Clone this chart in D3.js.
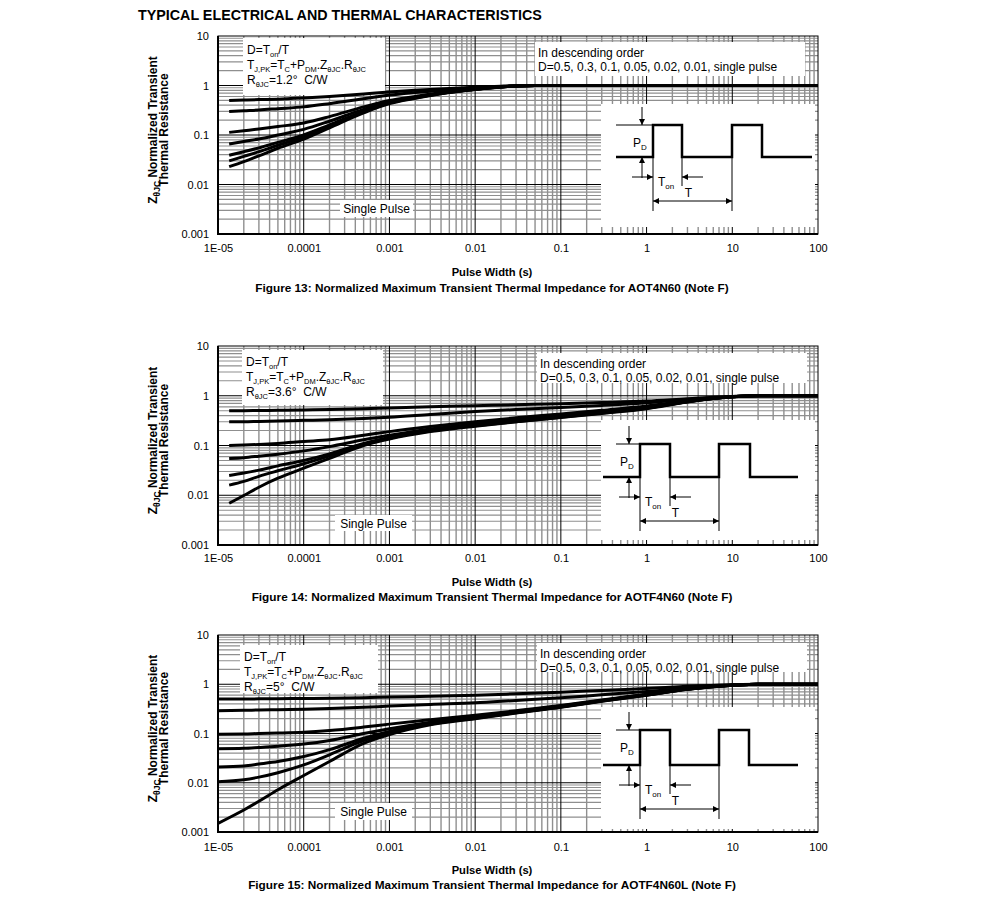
<!DOCTYPE html>
<html><head><meta charset="utf-8">
<script src="https://cdn.jsdelivr.net/npm/d3@7"></script>
<style>body{margin:0;background:#fff} svg{display:block} text{font-family:"Liberation Sans",Arial,sans-serif;fill:#000}</style>
</head><body><svg id="c" width="991" height="923"></svg>
<script>
// ---------- data ----------
const pageTitle = "TYPICAL ELECTRICAL AND THERMAL CHARACTERISTICS";
const xTickValues = [1e-5, 1e-4, 1e-3, 1e-2, 1e-1, 1, 10, 100];
const xTickLabels = ["1E-05", "0.0001", "0.001", "0.01", "0.1", "1", "10", "100"];
const yTickValues = [0.001, 0.01, 0.1, 1, 10];
const yTickLabels = ["0.001", "0.01", "0.1", "1", "10"];
const seriesNames = ["D=0.5", "D=0.3", "D=0.1", "D=0.05", "D=0.02", "D=0.01", "single pulse"];
const xAxisTitle = "Pulse Width (s)";
const figCaptions = [
  "Figure 13: Normalized Maximum Transient Thermal Impedance for AOT4N60 (Note F)",
  "Figure 14: Normalized Maximum Transient Thermal Impedance for AOTF4N60 (Note F)",
  "Figure 15: Normalized Maximum Transient Thermal Impedance for AOTF4N60L (Note F)"
];
const rthValues = ["1.2", "3.6", "5"];

const fig13Time = [1.35e-5, 2e-5, 3e-5, 5e-5, 1e-4, 2e-4, 5e-4, 1e-3, 2e-3, 5e-3, 1e-2, 2e-2, 3e-2, 5e-2, 0.1, 1, 10, 100];
const fig13Z = [
  [0.50, 0.51, 0.52, 0.53, 0.56, 0.60, 0.67, 0.74, 0.80, 0.87, 0.92, 0.97, 0.99, 1, 1, 1, 1, 1],
  [0.30, 0.31, 0.32, 0.34, 0.37, 0.43, 0.54, 0.64, 0.72, 0.82, 0.89, 0.96, 0.99, 1, 1, 1, 1, 1],
  [0.113, 0.122, 0.132, 0.148, 0.175, 0.235, 0.37, 0.50, 0.60, 0.76, 0.85, 0.94, 0.98, 1, 1, 1, 1, 1],
  [0.066, 0.074, 0.083, 0.100, 0.13, 0.19, 0.33, 0.47, 0.58, 0.74, 0.84, 0.94, 0.98, 1, 1, 1, 1, 1],
  [0.039, 0.046, 0.055, 0.071, 0.10, 0.16, 0.30, 0.45, 0.57, 0.73, 0.84, 0.93, 0.98, 1, 1, 1, 1, 1],
  [0.030, 0.037, 0.046, 0.062, 0.092, 0.15, 0.29, 0.44, 0.56, 0.73, 0.83, 0.93, 0.98, 1, 1, 1, 1, 1],
  [0.023, 0.029, 0.038, 0.054, 0.083, 0.14, 0.28, 0.43, 0.55, 0.72, 0.83, 0.93, 0.98, 1, 1, 1, 1, 1]
];

const fig14Time = [1.35e-5, 2e-5, 3e-5, 5e-5, 1e-4, 2e-4, 5e-4, 1e-3, 3e-3, 1e-2, 3e-2, 0.1, 0.3, 1, 3, 10, 20, 100];
const fig14Z = [
  [0.50, 0.50, 0.505, 0.51, 0.52, 0.53, 0.55, 0.57, 0.60, 0.63, 0.66, 0.69, 0.73, 0.78, 0.87, 0.97, 1, 1],
  [0.30, 0.30, 0.305, 0.31, 0.32, 0.33, 0.35, 0.37, 0.42, 0.48, 0.53, 0.58, 0.64, 0.72, 0.84, 0.96, 1, 1],
  [0.100, 0.102, 0.105, 0.11, 0.12, 0.13, 0.16, 0.19, 0.24, 0.30, 0.36, 0.43, 0.51, 0.62, 0.79, 0.95, 1, 1],
  [0.055, 0.057, 0.061, 0.067, 0.078, 0.095, 0.13, 0.16, 0.215, 0.27, 0.33, 0.40, 0.48, 0.59, 0.77, 0.95, 1, 1],
  [0.025, 0.028, 0.032, 0.039, 0.050, 0.068, 0.11, 0.145, 0.20, 0.255, 0.31, 0.38, 0.46, 0.57, 0.76, 0.95, 1, 1],
  [0.016, 0.019, 0.024, 0.031, 0.043, 0.062, 0.105, 0.14, 0.195, 0.25, 0.30, 0.37, 0.45, 0.56, 0.76, 0.95, 1, 1],
  [0.0069, 0.0099, 0.0145, 0.022, 0.035, 0.055, 0.10, 0.135, 0.19, 0.245, 0.30, 0.365, 0.44, 0.55, 0.75, 0.95, 1, 1]
];

const fig15Time = [1e-5, 2e-5, 3e-5, 5e-5, 1e-4, 2e-4, 5e-4, 1e-3, 3e-3, 1e-2, 3e-2, 0.1, 0.3, 1, 3, 10, 20, 100];
const fig15Z = [
  [0.50, 0.50, 0.505, 0.51, 0.515, 0.52, 0.535, 0.55, 0.57, 0.60, 0.64, 0.69, 0.75, 0.82, 0.91, 0.98, 1, 1],
  [0.29, 0.295, 0.30, 0.305, 0.31, 0.32, 0.34, 0.36, 0.39, 0.42, 0.47, 0.53, 0.61, 0.71, 0.84, 0.96, 1, 1],
  [0.097, 0.098, 0.10, 0.102, 0.106, 0.115, 0.135, 0.155, 0.19, 0.235, 0.29, 0.37, 0.48, 0.63, 0.80, 0.95, 1, 1],
  [0.049, 0.050, 0.052, 0.055, 0.061, 0.072, 0.10, 0.125, 0.17, 0.22, 0.28, 0.36, 0.47, 0.62, 0.80, 0.95, 1, 1],
  [0.021, 0.022, 0.024, 0.027, 0.034, 0.047, 0.08, 0.11, 0.16, 0.21, 0.27, 0.35, 0.46, 0.61, 0.79, 0.95, 1, 1],
  [0.0105, 0.0115, 0.013, 0.016, 0.023, 0.037, 0.072, 0.10, 0.155, 0.205, 0.265, 0.345, 0.455, 0.60, 0.79, 0.95, 1, 1],
  [0.0015, 0.0028, 0.0042, 0.0072, 0.014, 0.027, 0.063, 0.095, 0.15, 0.20, 0.26, 0.34, 0.45, 0.60, 0.79, 0.95, 1, 1]
];

// ---------- layout ----------
const FONT = '"Liberation Sans",Arial,sans-serif';
const plotLeft = 218, plotRight = 818;
const layouts = [
  {top: 36, bottom: 234, leg1: [243, 38, 385, 95], leg2: [535, 42, 805, 76], sp: [340, 200, 413, 217],
   inset: [601, 104, 815, 227], wave: {hi: 125, lo: 157, x0: 616, r1: 653, f1: 682, r2: 732, f2: 762, x1: 812, ax: 642, rs: 616},
   xlab: 248, pw: 272, cap: 288},
  {top: 346, bottom: 545, leg1: [242, 350, 383, 405], leg2: [537, 353, 807, 383], sp: [335, 515, 412, 531],
   inset: [601, 420, 815, 540], wave: {hi: 444, lo: 477, x0: 603, r1: 640, f1: 670, r2: 719, f2: 750, x1: 798, ax: 629, rs: 616},
   xlab: 558, pw: 582, cap: 597},
  {top: 635, bottom: 832, leg1: [240, 645, 378, 693], leg2: [537, 643, 807, 672], sp: [335, 803, 412, 820],
   inset: [601, 707, 815, 829], wave: {hi: 730, lo: 765, x0: 603, r1: 640, f1: 670, r2: 719, f2: 749, x1: 798, ax: 629, rs: 616},
   xlab: 847, pw: 870, cap: 885}
];
const chartData = [[fig13Time, fig13Z], [fig14Time, fig14Z], [fig15Time, fig15Z]];

const svg = d3.select("#c");
const defs = svg.append("defs");
defs.append("marker").attr("id", "ah").attr("viewBox", "0 0 10 10").attr("refX", 10).attr("refY", 5)
  .attr("markerWidth", 7).attr("markerHeight", 6).attr("markerUnits", "userSpaceOnUse").attr("orient", "auto-start-reverse")
  .append("path").attr("d", "M0,0L10,5L0,10Z").attr("fill", "#000");

svg.append("text").attr("x", 138).attr("y", 20).attr("font-size", 14.3).attr("font-weight", "bold").text(pageTitle);

// multi-line text with subscripts, all in one text element
function richText(sel, lines, x, lineH, base, sub, shift) {
  let cur = 0;
  lines.forEach((parts, li) => {
    parts.forEach(([t, s], pi) => {
      const ts = sel.append("tspan").text(t).attr("font-size", s ? sub : base);
      const target = s ? shift : 0;
      let dy = target - cur;
      if (pi === 0) { ts.attr("x", x); if (li > 0) dy += lineH; }
      if (dy) ts.attr("dy", dy);
      cur = target;
    });
  });
}

layouts.forEach((L, ci) => {
  const [times, zs] = chartData[ci];
  const x = d3.scaleLog().domain([1e-5, 100]).range([plotLeft, plotRight]);
  const y = d3.scaleLog().domain([0.001, 10]).range([L.bottom, L.top]);
  const g = svg.append("g");
  const clipId = "clip" + ci;
  defs.append("clipPath").attr("id", clipId).append("rect")
    .attr("x", plotLeft).attr("y", L.top).attr("width", plotRight - plotLeft).attr("height", L.bottom - L.top);

  // grid
  const grid = g.append("g");
  const xs = [], ys = [];
  for (let d = -5; d <= 1; d++) for (let m = 1; m <= 9; m++) xs.push({v: m * Math.pow(10, d), major: m === 1});
  for (let d = -3; d <= 0; d++) for (let m = 1; m <= 9; m++) ys.push({v: m * Math.pow(10, d), major: m === 1});
  grid.selectAll(".gx").data(xs.filter(d => !d.major)).join("line")
    .attr("x1", d => x(d.v)).attr("x2", d => x(d.v)).attr("y1", L.top).attr("y2", L.bottom)
    .attr("stroke", "#8f8f8f").attr("stroke-width", 1.4);
  grid.selectAll(".gy").data(ys.filter(d => !d.major)).join("line")
    .attr("y1", d => y(d.v)).attr("y2", d => y(d.v)).attr("x1", plotLeft).attr("x2", plotRight)
    .attr("stroke", "#8f8f8f").attr("stroke-width", 1.2);
  grid.selectAll(".mx").data(xs.filter(d => d.major)).join("line")
    .attr("x1", d => x(d.v)).attr("x2", d => x(d.v)).attr("y1", L.top).attr("y2", L.bottom)
    .attr("stroke", "#000").attr("stroke-width", 1);
  grid.selectAll(".my").data(ys.filter(d => d.major)).join("line")
    .attr("y1", d => y(d.v)).attr("y2", d => y(d.v)).attr("x1", plotLeft).attr("x2", plotRight)
    .attr("stroke", "#000").attr("stroke-width", 1);

  // white boxes
  const box = (b) => g.append("rect").attr("x", b[0]).attr("y", b[1]).attr("width", b[2] - b[0]).attr("height", b[3] - b[1]).attr("fill", "#fff");
  box(L.leg1); box(L.leg2); box(L.sp); box(L.inset);

  // frame
  g.append("rect").attr("x", plotLeft).attr("y", L.top).attr("width", plotRight - plotLeft).attr("height", L.bottom - L.top)
    .attr("fill", "none").attr("stroke", "#000").attr("stroke-width", 1);
  g.append("path").attr("d", `M${plotLeft},${L.top}V${L.bottom}H${plotRight}`).attr("fill", "none").attr("stroke", "#000").attr("stroke-width", 2);

  // curves
  const line = d3.line().x(d => x(d[0])).y(d => y(d[1])).curve(d3.curveMonotoneX);
  g.append("g").attr("clip-path", `url(#${clipId})`).selectAll("path").data(zs).join("path")
    .attr("d", s => line(times.map((t, i) => [t, s[i]])))
    .attr("fill", "none").attr("stroke", "#000").attr("stroke-width", 3).attr("stroke-linejoin", "round")
    .attr("data-name", (s, i) => seriesNames[i]);

  // axes
  const ya = g.append("g").attr("transform", `translate(${plotLeft},0)`)
    .call(d3.axisLeft(y).tickValues(yTickValues).tickFormat((d, i) => yTickLabels[i]).tickSize(0).tickPadding(9));
  ya.select(".domain").remove();
  ya.selectAll("text").attr("font-size", 11).attr("font-family", FONT).attr("fill", "#000");
  const xa = g.append("g").attr("transform", `translate(0,${L.bottom})`)
    .call(d3.axisBottom(x).tickValues(xTickValues).tickFormat((d, i) => xTickLabels[i]).tickSize(0).tickPadding(L.xlab - L.bottom - 4));
  xa.select(".domain").remove();
  xa.selectAll("text").attr("font-size", 11).attr("font-family", FONT).attr("fill", "#000");

  // axis titles
  g.append("text").attr("x", 492).attr("y", L.pw + 4).attr("text-anchor", "middle").attr("font-size", 11.2).attr("font-weight", "bold").text(xAxisTitle);
  g.append("text").attr("x", 492).attr("y", L.cap + 4).attr("text-anchor", "middle").attr("font-size", 11.8).attr("font-weight", "bold").text(figCaptions[ci]);
  const cy = (L.top + L.bottom) / 2 - 5;
  const t1 = g.append("text").attr("transform", `translate(157,${cy}) rotate(-90)`).attr("text-anchor", "middle").attr("font-weight", "bold");
  richText(t1, [[["Z", false], ["\u03b8JC", true], [" Normalized Transient", false]], [["Thermal Resistance", false]]], 0, 10.5, 12, 8.5, 2.5);

  // legend 1
  const lx = L.leg1[0] + 4, ly = L.leg1[1];
  const a1 = g.append("text").attr("x", lx).attr("y", ly + 16).attr("xml:space", "preserve");
  richText(a1, [
    [["D=T", false], ["on", true], ["/T", false]],
    [["T", false], ["J,PK", true], ["=T", false], ["C", true], ["+P", false], ["DM", true], [".Z", false], ["\u03b8JC", true], [".R", false], ["\u03b8JC", true]],
    [["R", false], ["\u03b8JC", true], ["=" + rthValues[ci] + "\u00b0\u00a0\u00a0C/W", false]]
  ], lx, 15, 12, 7.5, 2.5);

  // legend 2
  const b2 = g.append("text").attr("x", L.leg2[0] + 3).attr("y", L.leg2[1] + 15).attr("font-size", 12);
  richText(b2, [
    [["In descending order", false]],
    [["D=" + seriesNames.slice(0, 6).map(s => s.replace("D=", "")).join(", ") + ", " + seriesNames[6], false]]
  ], L.leg2[0] + 3, 13.5, 12, 8, 0);

  // single pulse label
  g.append("text").attr("x", (L.sp[0] + L.sp[2]) / 2).attr("y", (L.sp[1] + L.sp[3]) / 2 + 4.5).attr("text-anchor", "middle").attr("font-size", 12).text("Single Pulse");

  // inset waveform
  const w = L.wave;
  g.append("path").attr("d", `M${w.x0},${w.lo}H${w.r1}V${w.hi}H${w.f1}V${w.lo}H${w.r2}V${w.hi}H${w.f2}V${w.lo}H${w.x1}`)
    .attr("fill", "none").attr("stroke", "#000").attr("stroke-width", 2.5);
  const thin = (x1, y1, x2, y2, arrow) => {
    const l = g.append("line").attr("x1", x1).attr("y1", y1).attr("x2", x2).attr("y2", y2).attr("stroke", "#000").attr("stroke-width", 1);
    if (arrow === "end" || arrow === "both") l.attr("marker-end", "url(#ah)");
    if (arrow === "both") l.attr("marker-start", "url(#ah)");
  };
  thin(w.rs, w.hi, w.r1, w.hi);
  thin(w.ax, w.hi - 18, w.ax, w.hi, "end");
  thin(w.ax, w.lo + 21, w.ax, w.lo, "end");
  thin(w.r1, w.lo, w.r1, w.lo + 54);
  thin(w.r2, w.lo, w.r2, w.lo + 54);
  thin(w.f1, w.lo, w.f1, w.lo + 29);
  thin(w.r1 - 21, w.lo + 20, w.r1, w.lo + 20, "end");
  thin(w.f1 + 21, w.lo + 20, w.f1, w.lo + 20, "end");
  thin(w.r1, w.lo + 44, w.r2, w.lo + 44, "both");
  const pd = g.append("text").attr("x", w.ax - 9).attr("y", w.hi + 22);
  richText(pd, [[["P", false], ["D", true]]], w.ax - 9, 0, 12, 8, 2.5);
  const ton = g.append("text").attr("x", w.r1 + 5).attr("y", w.lo + 29);
  richText(ton, [[["T", false], ["on", true]]], w.r1 + 5, 0, 12, 8, 2.5);
  g.append("text").attr("x", (w.r1 + w.r2) / 2 - 4).attr("y", w.lo + 40).attr("text-anchor", "middle").attr("font-size", 12).text("T");
});
</script>
</body></html>
